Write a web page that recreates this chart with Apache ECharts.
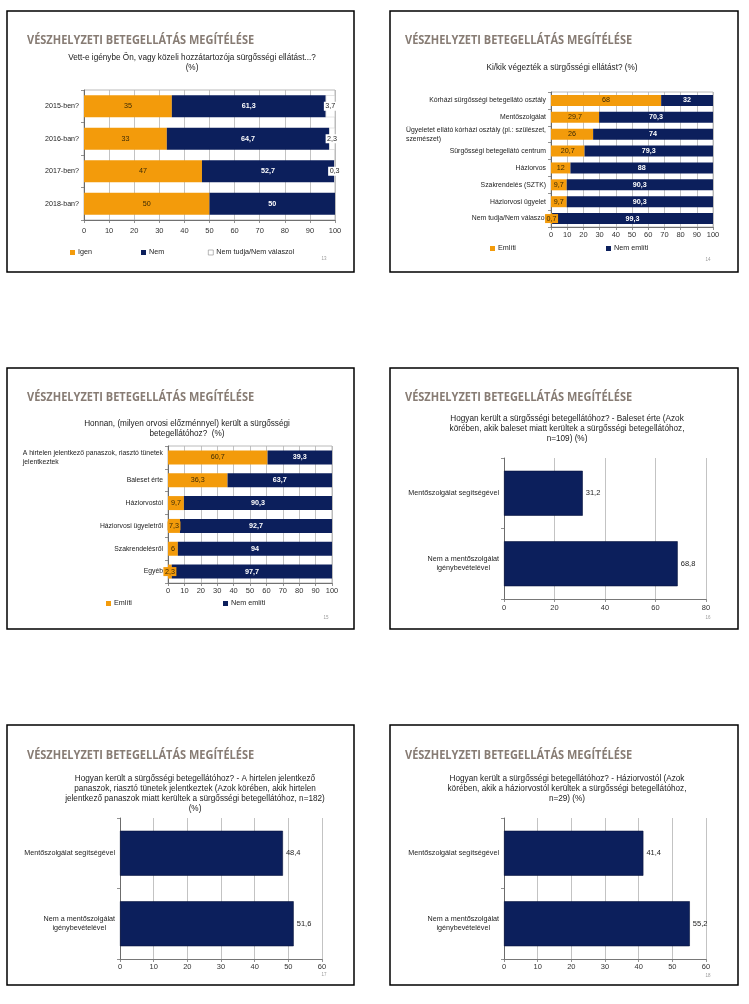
<!DOCTYPE html>
<html>
<head>
<meta charset="utf-8">
<script src="https://cdn.jsdelivr.net/npm/echarts@6/dist/echarts.min.js"></script>
<style>
html,body{margin:0;padding:0;background:#fff;}
#c{width:749px;height:1004px;}
</style>
</head>
<body>
<div id="c"></div>
<script>
// ---------- DATA ----------
const heading = 'VÉSZHELYZETI BETEGELLÁTÁS MEGÍTÉLÉSE';

const s1Title = 'Vett-e igénybe Ön, vagy közeli hozzátartozója sürgősségi ellátást...?\n(%)';
const s1Cats = ['2015-ben?', '2016-ban?', '2017-ben?', '2018-ban?'];
const s1Igen = [35, 33, 47, 50];
const s1Nem = [61.3, 64.7, 52.7, 50];
const s1NT = [3.7, 2.3, 0.3, 0];
const s1Legend = ['Igen', 'Nem', 'Nem tudja/Nem válaszol'];

const s2Title = 'Ki/kik végezték a sürgősségi ellátást? (%)';
const s2Cats = ['Kórházi sürgősségi betegellátó osztály', 'Mentőszolgálat',
  'Ügyeletet ellátó kórházi osztály (pl.: szülészet,\nszemészet)', 'Sürgősségi betegellátó centrum',
  'Háziorvos', 'Szakrendelés (SZTK)', 'Háziorvosi ügyelet', 'Nem tudja/Nem válaszol'];
const s2Em = [68, 29.7, 26, 20.7, 12, 9.7, 9.7, 0.7];
const s2Nem = [32, 70.3, 74, 79.3, 88, 90.3, 90.3, 99.3];

const s3Title = 'Honnan, (milyen orvosi előzménnyel) került a sürgősségi\nbetegellátóhoz?  (%)';
const s3Cats = ['A hirtelen jelentkező panaszok, riasztó tünetek\njelentkeztek', 'Baleset érte',
  'Háziorvostól', 'Háziorvosi ügyeletről', 'Szakrendelésről', 'Egyéb'];
const s3Em = [60.7, 36.3, 9.7, 7.3, 6, 2.3];
const s3Nem = [39.3, 63.7, 90.3, 92.7, 94, 97.7];

const emLegend = ['Említi', 'Nem említi'];

const hCats = ['Mentőszolgálat segítségével', 'Nem a mentőszolgálat\nigénybevételével'];
const s4Title = 'Hogyan került a sürgősségi betegellátóhoz? - Baleset érte (Azok\nkörében, akik baleset miatt kerültek a sürgősségi betegellátóhoz,\nn=109) (%)';
const s4Vals = [31.2, 68.8];
const s5Title = 'Hogyan került a sürgősségi betegellátóhoz? - A hirtelen jelentkező\npanaszok, riasztó tünetek jelentkeztek (Azok körében, akik hirtelen\njelentkező panaszok miatt kerültek a sürgősségi betegellátóhoz, n=182)\n(%)';
const s5Vals = [48.4, 51.6];
const s6Title = 'Hogyan került a sürgősségi betegellátóhoz? - Háziorvostól (Azok\nkörében, akik a háziorvostól kerültek a sürgősségi betegellátóhoz,\nn=29) (%)';
const s6Vals = [41.4, 55.2];

const pageNums = ['13', '14', '15', '16', '17', '18'];

// ---------- STYLE ----------
const ORANGE = '#F39B0B';
const NAVY = '#0C1F5C';
const FONT = 'Liberation Sans';
const HEAD_COLOR = '#877C74';

const fmt = v => (v === 0 ? '' : String(v).replace('.', ','));

// slide frames (x, y, w, h)
const frames = [
  [7, 11, 347, 261], [390, 11, 348, 261],
  [7, 368, 347, 261], [390, 368, 348, 261],
  [7, 725, 347, 260], [390, 725, 348, 260]
];

const graphic = [];
frames.forEach((f, i) => {
  graphic.push({ type: 'rect', shape: { x: f[0], y: f[1], width: f[2], height: f[3] },
    style: { fill: 'none', stroke: '#000', lineWidth: 1.5 }, silent: true });
});
// headings
const headPos = [[27, 40], [405, 40], [27, 397], [405, 397], [27, 755], [405, 755]];
headPos.forEach(p => {
  graphic.push({ type: 'text', x: p[0], y: p[1], scaleX: 0.88, silent: true,
    style: { text: heading, fill: HEAD_COLOR, font: 'bold 12.5px "Open Sans"', textVerticalAlign: 'middle' } });
});
// subtitles: [text, centerX, firstLineCenterY, lineHeight]
const subs = [
  [s1Title, 192, 58, 10], [s2Title, 562, 68, 10], [s3Title, 187, 424, 10],
  [s4Title, 567, 419, 10], [s5Title, 195, 779, 10], [s6Title, 567, 779, 10]
];
subs.forEach(s => {
  graphic.push({ type: 'text', x: s[1], y: s[2] - s[3] / 2, silent: true,
    style: { text: s[0], fill: '#1a1a1a', font: '8.2px "' + FONT + '"', textAlign: 'center',
      textVerticalAlign: 'top', lineHeight: s[3] } });
});
// page numbers
const pnPos = [[324, 259], [708, 260], [326, 618], [708, 618], [324, 975], [708, 976]];
pnPos.forEach((p, i) => {
  graphic.push({ type: 'text', x: p[0], y: p[1], silent: true,
    style: { text: pageNums[i], fill: '#9a9a9a', font: '4.5px "' + FONT + '"', textAlign: 'center', textVerticalAlign: 'middle' } });
});

// multi-line category labels: every line is a rich token aligned inside the block
function richLabel(align) {
  return function (v) {
    return v.split('\n').map(l => '{' + align + '|' + l + '}').join('\n');
  };
}
function richStyles(size) {
  return {
    l: { align: 'left', fontSize: size, fontFamily: FONT, color: '#222', lineHeight: 9 },
    c: { align: 'center', fontSize: size, fontFamily: FONT, color: '#222', lineHeight: 9 }
  };
}

// ---------- GRIDS ----------
const grids = [
  { left: 84, top: 90, width: 251, height: 130, show: true, borderColor: '#a8a8a8', borderWidth: 0.8 },
  { left: 551, top: 92, width: 162, height: 135, show: true, borderColor: '#a8a8a8', borderWidth: 0.8 },
  { left: 168, top: 446, width: 164, height: 137, show: true, borderColor: '#a8a8a8', borderWidth: 0.8 },
  { left: 504, top: 458, width: 202, height: 141 },
  { left: 120, top: 818, width: 202, height: 141 },
  { left: 504, top: 818, width: 202, height: 141 }
];

const xMax = [100, 100, 100, 80, 60, 60];
const xInt = [10, 10, 10, 20, 10, 10];
const xMargin = [7, 4, 4, 5, 4, 4];
const xAxes = grids.map((g, i) => ({
  type: 'value', gridIndex: i, min: 0, max: xMax[i], interval: xInt[i],
  axisLine: { show: true, lineStyle: { color: '#555', width: 0.8 } },
  axisTick: { show: true, length: 3, lineStyle: { color: '#777', width: 0.8 } },
  axisLabel: { fontSize: 7.5, fontFamily: FONT, color: '#333', margin: xMargin[i] },
  splitLine: { show: true, lineStyle: { color: '#b4b4b4', width: 0.8 } }
}));

const yCats = [s1Cats, s2Cats, s3Cats, hCats, hCats, hCats];
const ySize = [7.1, 6.85, 6.8, 7.2, 7.2, 7.2];
const yAxes = grids.map((g, i) => ({
  type: 'category', gridIndex: i, data: yCats[i], inverse: true,
  axisLine: { show: true, lineStyle: { color: '#555', width: 0.8 } },
  axisTick: { show: true, length: 3, lineStyle: { color: '#777', width: 0.8 } },
  axisLabel: {
    fontSize: ySize[i], fontFamily: FONT, color: '#222', margin: 5,
    formatter: i < 3 ? richLabel('l') : richLabel('c'), rich: richStyles(ySize[i])
  }
}));

// ---------- SERIES ----------
function stackSeries(name, data, idx, color, labelColor, bold, barW, bg) {
  return {
    type: 'bar', name: name, data: data, xAxisIndex: idx, yAxisIndex: idx,
    stack: 'st' + idx, barWidth: barW, itemStyle: { color: color },
    label: {
      show: true, position: 'inside', formatter: p => fmt(p.value),
      fontSize: 7.2, fontFamily: FONT, color: labelColor, fontWeight: bold ? 'bold' : 'normal',
      backgroundColor: bg || 'transparent', padding: bg ? [1, 1.5] : 0
    }
  };
}
function singleSeries(data, idx) {
  return {
    type: 'bar', name: 'v' + idx, data: data, xAxisIndex: idx, yAxisIndex: idx, barWidth: 45,
    itemStyle: { color: NAVY, borderColor: '#07133d', borderWidth: 0.6 },
    label: { show: true, position: 'right', distance: 3, formatter: p => fmt(p.value),
      fontSize: 7.5, fontFamily: FONT, color: '#222' }
  };
}

// "Nem tudja" series: white bars; zero values get no outline / no label box
const ntData = s1NT.map(v => (v === 0
  ? { value: v, itemStyle: { borderWidth: 0 }, label: { show: false } }
  : v));
const ntSeries = stackSeries(s1Legend[2], ntData, 0, '#ffffff', '#222', false, 22, '#ffffff');
ntSeries.itemStyle = { color: '#fff', borderColor: '#c8c8c8', borderWidth: 0.5 };

const series = [
  stackSeries(s1Legend[0], s1Igen, 0, ORANGE, '#3b2a05', false, 22),
  stackSeries(s1Legend[1], s1Nem, 0, NAVY, '#fff', true, 22),
  ntSeries,
  stackSeries(emLegend[0], s2Em, 1, ORANGE, '#3b2a05', false, 11, ORANGE),
  stackSeries(emLegend[1], s2Nem, 1, NAVY, '#fff', true, 11),
  stackSeries(emLegend[0], s3Em, 2, ORANGE, '#3b2a05', false, 14, ORANGE),
  stackSeries(emLegend[1], s3Nem, 2, NAVY, '#fff', true, 14),
  singleSeries(s4Vals, 3),
  singleSeries(s5Vals, 4),
  singleSeries(s6Vals, 5)
];

// ---------- LEGENDS ----------
function leg(name, x, y, border) {
  return {
    data: [{ name: name, itemStyle: border ? { borderColor: '#888', borderWidth: 0.6 } : undefined }],
    left: x, top: y - 4, padding: 0, itemWidth: 5, itemHeight: 5, itemGap: 2,
    icon: 'rect', selectedMode: false,
    textStyle: { fontSize: 7.2, fontFamily: FONT, color: '#222', padding: [0, 0, 0, -2] }
  };
}
const legends = [
  leg(s1Legend[0], 70, 253), leg(s1Legend[1], 141, 253), leg(s1Legend[2], 208, 253, true),
  leg(emLegend[0], 490, 249), leg(emLegend[1], 606, 249),
  leg(emLegend[0], 106, 604), leg(emLegend[1], 223, 604)
];

const chart = echarts.init(document.getElementById('c'), null, { renderer: 'canvas' });
chart.setOption({
  animation: false,
  backgroundColor: '#fff',
  grid: grids, xAxis: xAxes, yAxis: yAxes, series: series, legend: legends, graphic: graphic
});
</script>
</body>
</html>
